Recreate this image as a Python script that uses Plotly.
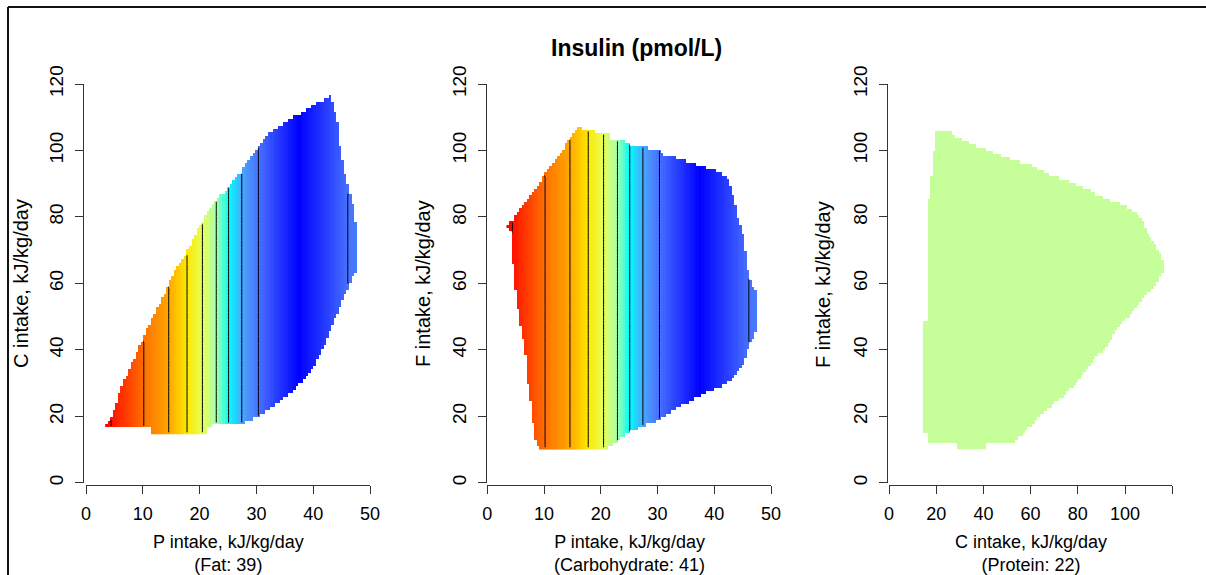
import numpy as np
import plotly.graph_objects as go

# ---------------- data ----------------
# Insulin response depends on protein intake: contour positions (P, kJ/kg/day)
# and the level index of each contour (equally spaced levels)
level_P = [3.6, 4.4, 10.2, 14.6, 17.8, 20.5, 22.95, 25.1, 27.4, 30.3, 37.5, 46.1, 47.8]
level_z = [0.8, 1.0, 2.0, 3.0, 4.0, 5.0, 6.0, 7.0, 8.0, 9.0, 9.9, 9.0, 8.8]

# colour of each level (blue = high)
color_z = [0.8, 1.0, 2.0, 3.0, 4.0, 5.0, 6.0, 7.0, 8.0, 9.0, 9.9]
color_hex = ['#FF0000', '#FF1000', '#FF7000', '#FFA800', '#FFE800', '#E6FF5A',
             '#A8FFAA', '#00FFFF', '#4AA8FF', '#4870FF', '#0000FF']

# panel 1: P vs C (fat fixed at 39) - outline of the fitted region
p1_hull_P = [3.6, 3.6, 4.8, 6.0, 8.3, 10.7, 13.0, 15.4, 17.7, 20.1, 22.4, 24.8, 27.1, 29.5,
             31.8, 34.7, 37.7, 40.0, 42.7, 43.1, 43.5, 44.4, 44.7, 45.6, 46.4, 47.1, 47.8,
             47.8, 47.1, 45.9, 44.7, 43.5, 41.8, 40.0, 38.3, 36.5, 34.7, 33.0, 31.2, 28.3,
             25.9, 23.0, 21.3, 21.3, 11.3, 11.3]
p1_hull_C = [16.4, 17.9, 20.9, 27.9, 36.9, 46.0, 54.0, 63.0, 69.5, 77.6, 84.1, 88.6, 93.1, 99.1,
             104.6, 108.2, 111.2, 113.9, 116.2, 117.3, 112.7, 107.7, 101.1, 93.1, 87.1, 82.1, 72.5,
             65.5, 62.5, 58.0, 53.0, 48.0, 40.9, 34.9, 30.9, 27.9, 25.4, 22.9, 20.9, 18.4,
             17.4, 17.4, 16.9, 15.1, 15.1, 16.4]

# panel 2: P vs F (carbohydrate fixed at 41)
p2_hull_P = [3.6, 4.3, 5.2, 6.4, 8.2, 9.9, 11.7, 13.4, 15.2, 16.4, 17.0, 18.8, 19.1, 21.4,
             21.6, 23.9, 25.6, 28.0, 30.6, 30.9, 33.0, 35.2, 37.7, 40.1, 42.4, 43.0, 43.6,
             44.2, 44.8, 45.4, 46.0, 46.4, 47.5, 47.8, 47.8, 47.2, 46.6, 46.0, 45.4, 44.8,
             43.9, 42.7, 40.7, 38.6, 36.3, 33.9, 32.2, 30.6, 27.4, 25.6, 23.9, 22.7, 21.4,
             9.1, 8.5, 8.0, 7.6, 7.1, 6.8, 6.2, 5.6, 5.0, 4.7, 4.2, 4.2, 3.6]
p2_hull_F = [77.6, 78.6, 81.0, 83.6, 87.6, 92.1, 96.1, 100.6, 105.1, 107.6, 106.0, 106.0, 105.3, 105.3,
             103.6, 103.1, 101.3, 100.9, 100.1, 98.8, 98.1, 96.6, 95.3, 94.1, 91.6, 88.6, 84.6,
             80.1, 76.6, 72.6, 64.6, 61.1, 57.1, 52.6, 46.6, 45.1, 42.6, 40.1, 37.1, 34.6,
             32.6, 30.6, 28.6, 27.1, 25.1, 23.1, 21.3, 19.1, 17.1, 15.6, 14.3, 12.1, 10.6,
             10.6, 13.1, 18.6, 25.1, 30.6, 38.1, 44.1, 50.1, 57.1, 63.1, 69.5, 76.0, 76.6]

# panel 3: C vs F (protein fixed at 22)
p3_hull_C = [19.5, 24.4, 28.6, 32.9, 37.1, 41.3, 45.6, 49.8, 55.5, 61.1, 66.7, 72.4, 76.6, 80.9,
             85.1, 89.3, 95.0, 99.9, 104.2, 107.0, 109.8, 112.0, 114.8, 116.9, 116.2, 114.1,
             110.6, 106.3, 102.8, 98.5, 95.0, 91.5, 86.5, 82.3, 78.0, 73.8, 69.6, 65.3, 61.1,
             58.3, 55.5, 52.7, 41.4, 41.4, 29.3, 29.3, 16.0, 16.0, 14.9, 14.9, 16.0, 16.3,
             17.1, 18.8]
p3_hull_F = [106.2, 106.2, 104.0, 102.9, 101.3, 100.3, 98.9, 97.9, 96.6, 95.6, 93.1, 91.6, 90.6, 89.1,
             88.1, 86.3, 84.6, 83.6, 81.6, 79.1, 75.1, 72.6, 69.1, 65.6, 64.1, 61.1,
             57.6, 54.6, 51.1, 48.1, 44.1, 40.1, 37.1, 32.6, 29.1, 26.1, 23.6, 21.1, 18.1,
             15.6, 14.1, 11.6, 11.6, 10.6, 10.6, 11.6, 11.6, 15.3, 15.3, 48.6, 48.6, 77.6,
             87.1, 96.6]
p3_color = '#C6FF9A'

x_ticks_P = [0, 10, 20, 30, 40, 50]
x_ticks_C = [0, 20, 40, 60, 80, 100, 120]
x_ticktext_C = ['0', '20', '40', '60', '80', '100', '']
y_ticks = [0, 20, 40, 60, 80, 100, 120]

panel_xtitles = ['P intake, kJ/kg/day', 'P intake, kJ/kg/day', 'C intake, kJ/kg/day']
panel_fixed = ['(Fat: 39)', '(Carbohydrate: 41)', '(Protein: 22)']
panel_ytitles = ['C intake, kJ/kg/day', 'F intake, kJ/kg/day', 'F intake, kJ/kg/day']
title = 'Insulin (pmol/L)'

# ---------------- helpers ----------------
def inside(px, py, vx, vy):
    vx = np.asarray(vx, float); vy = np.asarray(vy, float)
    res = np.zeros(px.shape, bool)
    n = len(vx)
    j = n - 1
    for i in range(n):
        xi, yi, xj, yj = vx[i], vy[i], vx[j], vy[j]
        cond = ((yi > py) != (yj > py))
        with np.errstate(divide='ignore', invalid='ignore'):
            xint = (xj - xi) * (py - yi) / (yj - yi) + xi
        res ^= cond & (px < xint)
        j = i
    return res

def grid(vx, vy, n=100):
    gx = np.linspace(min(vx), max(vx), n)
    gy = np.linspace(min(vy), max(vy), n)
    X, Y = np.meshgrid(gx, gy)
    return gx, gy, X, Y, inside(X, Y, vx, vy)

zmin, zmax = color_z[0], color_z[-1]
colorscale = [[(z - zmin) / (zmax - zmin), c] for z, c in zip(color_z, color_hex)]

W, H = 1206, 575
FONT = 'Liberation Sans, Arial, Helvetica, sans-serif'

# pixel geometry of the three panels
x_px = [(86.0, 370.0), (487.3, 771.0), (889.0, 1172.2)]
x_rng = [(0, 50), (0, 50), (0, 120)]
y_px = (84.0, 482.7)   # top (120) / bottom (0)
xaxis_line_px = 485.0
yaxis_line_px = [83.0, 485.7, 886.7]

fig = go.Figure()

# panel 1 & 2 heatmaps + contours
for k, (vx, vy) in enumerate([(p1_hull_P, p1_hull_C), (p2_hull_P, p2_hull_F)]):
    gx, gy, X, Y, m = grid(vx, vy)
    zc = np.interp(gx, level_P, level_z)
    Z = np.where(m, np.tile(zc, (len(gy), 1)), np.nan)
    ax = '' if k == 0 else str(k + 1)
    fig.add_trace(go.Heatmap(x=gx, y=gy, z=Z, colorscale=colorscale, zmin=zmin, zmax=zmax,
                             showscale=False, hoverinfo='skip',
                             xaxis='x' + ax, yaxis='y' + ax))
    fig.add_trace(go.Contour(x=gx, y=gy, z=Z, showscale=False, hoverinfo='skip',
                             contours=dict(coloring='none', start=1, end=9, size=1,
                                           showlabels=False),
                             line=dict(color='black', width=1),
                             xaxis='x' + ax, yaxis='y' + ax))

# panel 3 heatmap (constant)
gx, gy, X, Y, m = grid(p3_hull_C, p3_hull_F)
Z3 = np.where(m, 1.0, np.nan)
fig.add_trace(go.Heatmap(x=gx, y=gy, z=Z3, colorscale=[[0, p3_color], [1, p3_color]],
                         showscale=False, hoverinfo='skip', xaxis='x3', yaxis='y3'))

layout = dict(template='none', width=W, height=H,
              margin=dict(l=0, r=0, t=0, b=0, pad=0, autoexpand=False),
              paper_bgcolor='white', plot_bgcolor='white', showlegend=False,
              font=dict(family=FONT, color='black'))

ydom = [1 - y_px[1] / H, 1 - y_px[0] / H]
for i in range(3):
    s = '' if i == 0 else str(i + 1)
    tv = x_ticks_C if i == 2 else x_ticks_P
    tt = x_ticktext_C if i == 2 else [str(v) for v in x_ticks_P]
    layout['xaxis' + s] = dict(domain=[x_px[i][0] / W, x_px[i][1] / W], range=list(x_rng[i]),
                               anchor='free', position=1 - xaxis_line_px / H, automargin=False,
                               showline=True, linecolor='#333333', linewidth=1,
                               ticks='outside', ticklen=8, tickwidth=1, tickcolor='#333333',
                               tickvals=tv, ticktext=tt, showgrid=False, zeroline=False,
                               tickfont=dict(size=18, family=FONT, color='black'),
                               ticklabelstandoff=4, fixedrange=True)
    layout['yaxis' + s] = dict(domain=ydom, range=[0, 120],
                               anchor='free', position=yaxis_line_px[i] / W, automargin=False,
                               showline=True, linecolor='#333333', linewidth=1,
                               ticks='outside', ticklen=8, tickwidth=1, tickcolor='#333333',
                               tickvals=y_ticks, showgrid=False, zeroline=False,
                               tickangle=-90,
                               tickfont=dict(size=19, family=FONT, color='black'),
                               ticklabelstandoff=4, fixedrange=True)

ann = []
ann.append(dict(text='<b>' + title + '</b>', x=636.5 / W, y=1 - 48 / H, xref='paper', yref='paper',
                showarrow=False, xanchor='center', yanchor='middle',
                font=dict(size=23, family=FONT, color='black')))
ytitle_x = [21, 423, 823]
for i in range(3):
    cx = (x_px[i][0] + x_px[i][1]) / 2
    ann.append(dict(text=panel_xtitles[i] + '<br>' + panel_fixed[i], x=cx / W, y=1 - 553 / H,
                    xref='paper', yref='paper', showarrow=False,
                    xanchor='center', yanchor='middle', align='center',
                    font=dict(size=18, family=FONT, color='black')))
    ann.append(dict(text=panel_ytitles[i], x=ytitle_x[i] / W, y=1 - 284 / H, xref='paper', yref='paper',
                    showarrow=False, xanchor='center', yanchor='middle', textangle=-90,
                    font=dict(size=20, family=FONT, color='black')))
layout['annotations'] = ann

# outer frame (top and left edges visible)
layout['shapes'] = [
    dict(type='line', xref='paper', yref='paper', x0=8 / W, x1=1.0, y0=1 - 7 / H, y1=1 - 7 / H,
         line=dict(color='#111111', width=2)),
    dict(type='line', xref='paper', yref='paper', x0=8 / W, x1=8 / W, y0=1 - 7 / H, y1=0.0,
         line=dict(color='#111111', width=2)),
]

fig.update_layout(**layout)
fig.write_html('out.html')
